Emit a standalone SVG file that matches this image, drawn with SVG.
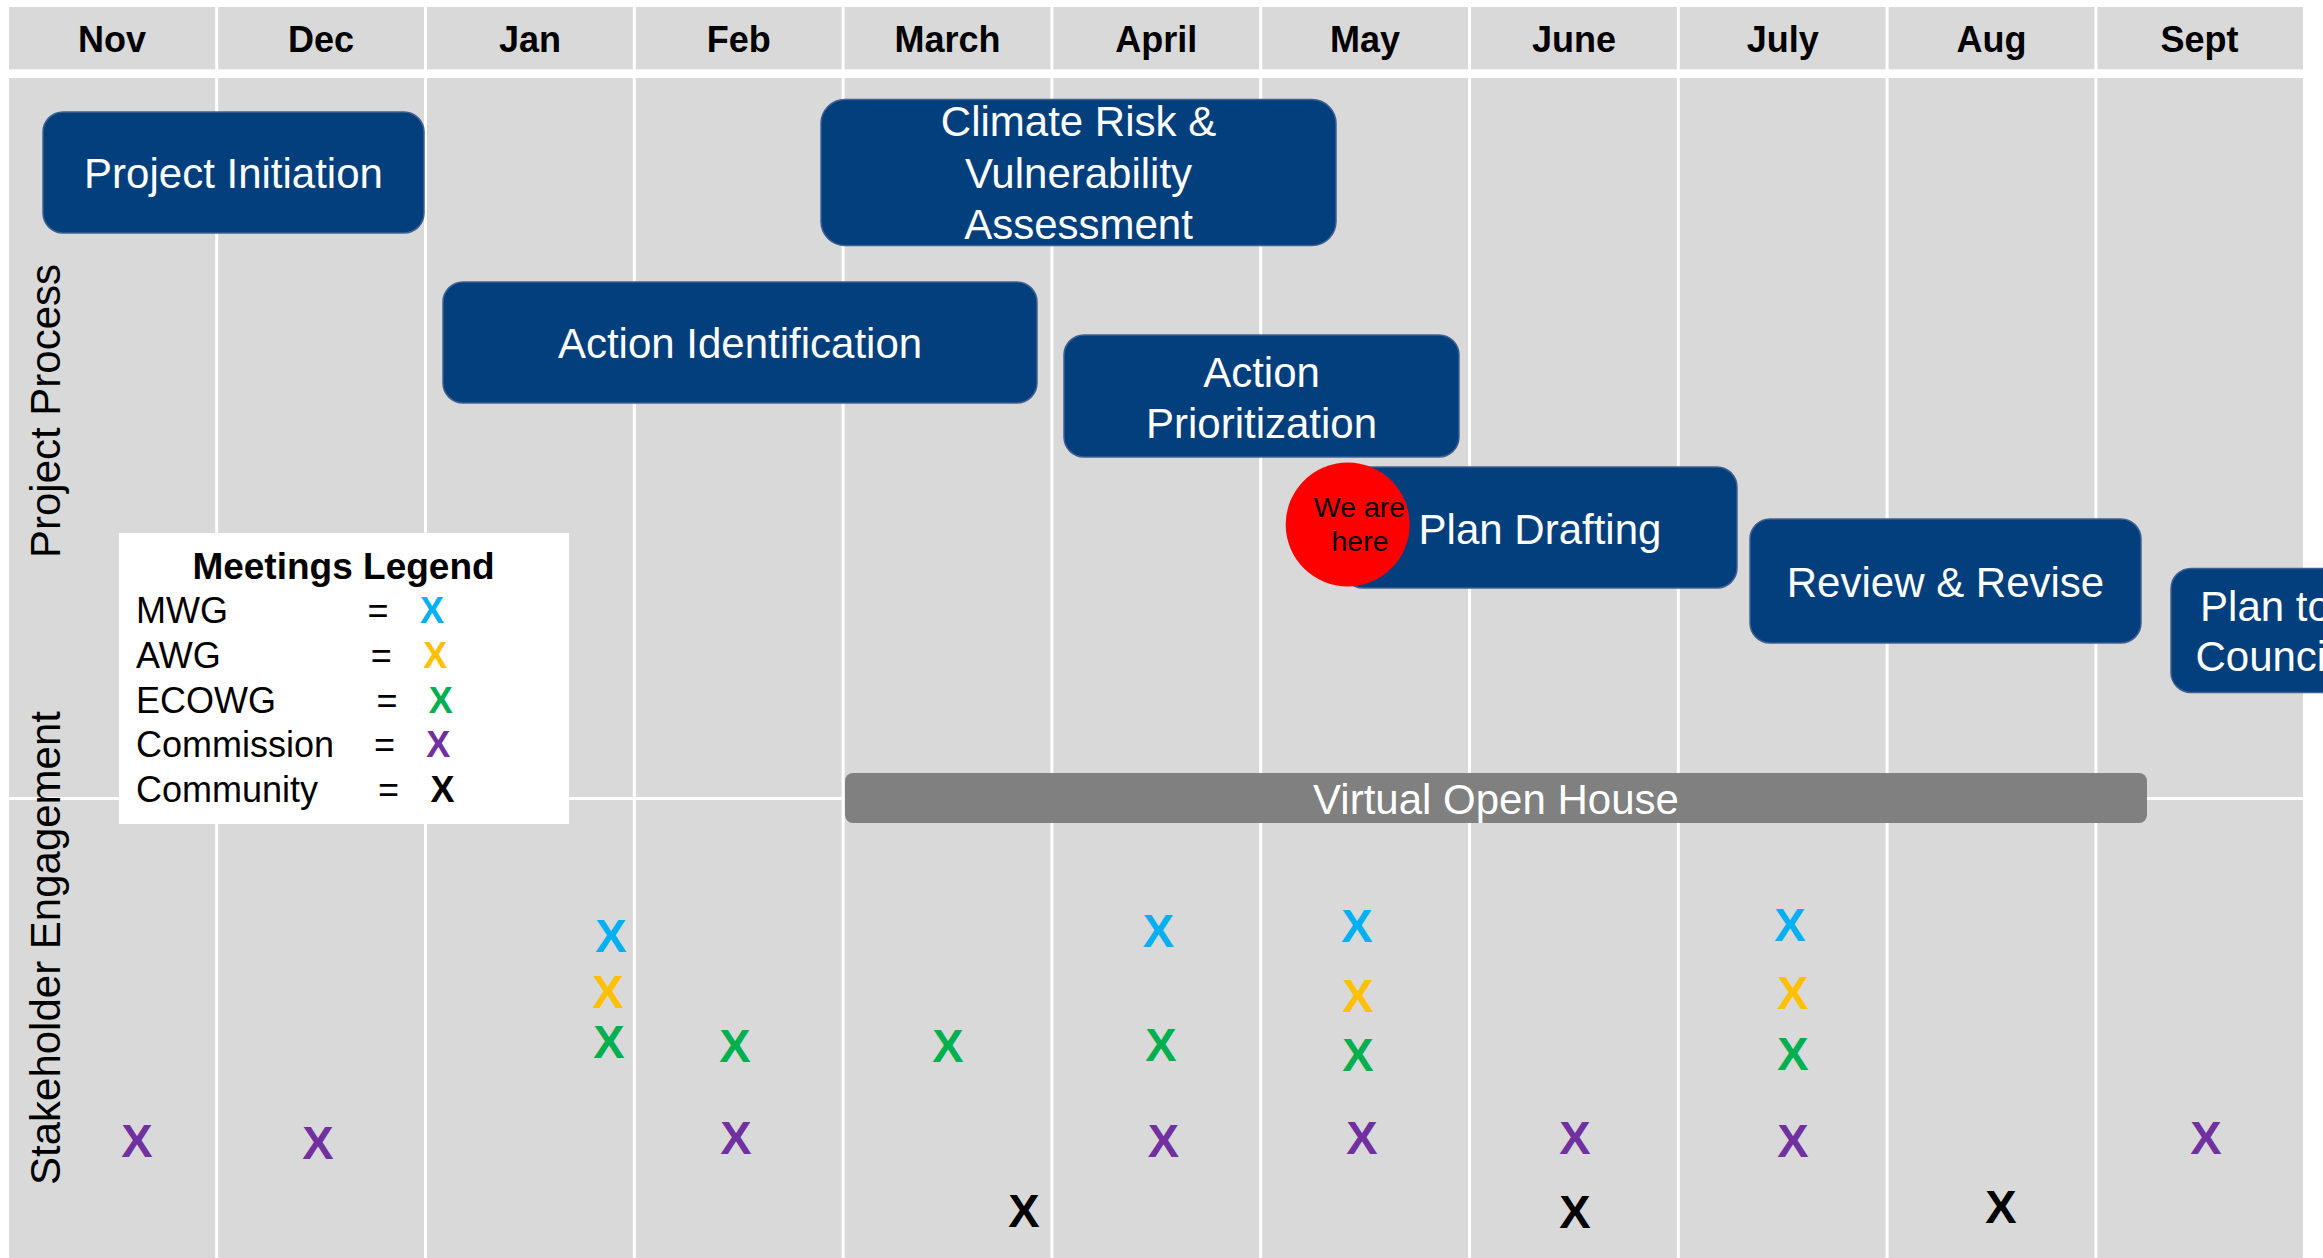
<svg xmlns="http://www.w3.org/2000/svg" width="2323" height="1258" viewBox="0 0 2323 1258">
  <style>
    .bg { fill: #D9D9D9; }
    .gl { stroke: #FFFFFF; stroke-width: 3; }
    .hdr { font-family: "Liberation Sans", Arial, sans-serif; font-weight: bold; font-size: 36px; text-anchor: middle; fill: #000000; }
    .side { font-family: "Liberation Sans", Arial, sans-serif; font-size: 42px; text-anchor: middle; fill: #000000; }
    .box { fill: #023F7C; stroke: #3F6090; stroke-width: 1.5; }
    .bt { font-family: "Liberation Sans", Arial, sans-serif; font-size: 42px; text-anchor: middle; fill: #FFFFFF; }
    .lg { font-family: "Liberation Sans", Arial, sans-serif; font-size: 36px; fill: #000000; }
    .lgc { font-family: "Liberation Sans", Arial, sans-serif; font-size: 36px; fill: #000000; text-anchor: middle; }
    .lgx { font-family: "Liberation Sans", Arial, sans-serif; font-size: 36px; font-weight: bold; text-anchor: middle; }
    .x { font-family: "Liberation Sans", Arial, sans-serif; font-size: 47px; font-weight: bold; text-anchor: middle; }
    .mwg { fill: #00B0F0; }
    .awg { fill: #FFC000; }
    .eco { fill: #00B050; }
    .com { fill: #7030A0; }
    .cty { fill: #000000; }
  </style>

  <rect x="0" y="0" width="2323" height="1258" fill="#FFFFFF"/>

  <g id="grid">
    <rect class="bg" x="9" y="7" width="2294" height="62.3"/>
    <rect class="bg" x="9" y="78" width="2294" height="1180"/>
    <g class="gl">
      <line x1="216.7" y1="0" x2="216.7" y2="1258"/>
      <line x1="425.5" y1="0" x2="425.5" y2="1258"/>
      <line x1="634.3" y1="0" x2="634.3" y2="1258"/>
      <line x1="843.1" y1="0" x2="843.1" y2="1258"/>
      <line x1="1051.9" y1="0" x2="1051.9" y2="1258"/>
      <line x1="1260.7" y1="0" x2="1260.7" y2="1258"/>
      <line x1="1469.5" y1="0" x2="1469.5" y2="1258"/>
      <line x1="1678.3" y1="0" x2="1678.3" y2="1258"/>
      <line x1="1887.1" y1="0" x2="1887.1" y2="1258"/>
      <line x1="2095.9" y1="0" x2="2095.9" y2="1258"/>
      <line x1="9" y1="798.5" x2="2303" y2="798.5"/>
    </g>
  </g>

  <g id="header">
    <text class="hdr" x="112.1" y="52">Nov</text>
    <text class="hdr" x="321.1" y="52">Dec</text>
    <text class="hdr" x="529.9" y="52">Jan</text>
    <text class="hdr" x="738.7" y="52">Feb</text>
    <text class="hdr" x="947.5" y="52">March</text>
    <text class="hdr" x="1156.3" y="52">April</text>
    <text class="hdr" x="1365.1" y="52">May</text>
    <text class="hdr" x="1573.9" y="52">June</text>
    <text class="hdr" x="1782.7" y="52">July</text>
    <text class="hdr" x="1991.5" y="52">Aug</text>
    <text class="hdr" x="2199.5" y="52">Sept</text>
  </g>

  <g id="row-labels">
    <text class="side" transform="translate(59.5,411) rotate(-90)">Project Process</text>
    <text class="side" transform="translate(59.5,948) rotate(-90)">Stakeholder Engagement</text>
  </g>

  <g id="legend">
    <rect x="119" y="533" width="450" height="291" fill="#FFFFFF"/>
    <text x="343.5" y="579" font-family="Liberation Sans, Arial, sans-serif" font-size="37" font-weight="bold" text-anchor="middle">Meetings Legend</text>
    <text class="lg" x="136" y="623">MWG</text>
    <text class="lgc" x="378" y="623">=</text>
    <text class="lgx mwg" x="432" y="623">X</text>
    <text class="lg" x="136" y="668">AWG</text>
    <text class="lgc" x="381.2" y="668">=</text>
    <text class="lgx awg" x="435.3" y="668">X</text>
    <text class="lg" x="136" y="713">ECOWG</text>
    <text class="lgc" x="387" y="713">=</text>
    <text class="lgx eco" x="440.8" y="713">X</text>
    <text class="lg" x="136" y="757">Commission</text>
    <text class="lgc" x="384.5" y="757">=</text>
    <text class="lgx com" x="438.3" y="757">X</text>
    <text class="lg" x="136" y="802">Community</text>
    <text class="lgc" x="388.5" y="802">=</text>
    <text class="lgx cty" x="442.5" y="802">X</text>
  </g>

  <g id="virtual-open-house">
    <rect x="845" y="773" width="1302" height="50" rx="8" ry="8" fill="#808080"/>
    <text class="bt" x="1496" y="814">Virtual Open House</text>
  </g>

  <g id="project-initiation">
    <rect class="box" x="43" y="112" width="381" height="121" rx="20" ry="20"/>
    <text class="bt" x="233.5" y="188">Project Initiation</text>
  </g>

  <g id="climate-risk">
    <rect class="box" x="821" y="99.5" width="515" height="146" rx="24" ry="24"/>
    <text class="bt" x="1078.5" y="136">Climate Risk &amp;</text>
    <text class="bt" x="1078.5" y="187.5">Vulnerability</text>
    <text class="bt" x="1078.5" y="239">Assessment</text>
  </g>

  <g id="action-identification">
    <rect class="box" x="443" y="282" width="594" height="121" rx="20" ry="20"/>
    <text class="bt" x="740" y="358">Action Identification</text>
  </g>

  <g id="action-prioritization">
    <rect class="box" x="1064" y="335" width="395" height="122" rx="20" ry="20"/>
    <text class="bt" x="1261.5" y="387">Action</text>
    <text class="bt" x="1261.5" y="438">Prioritization</text>
  </g>

  <g id="plan-drafting">
    <rect class="box" x="1343" y="467" width="394" height="121" rx="20" ry="20"/>
    <text class="bt" x="1540" y="544">Plan Drafting</text>
  </g>

  <g id="we-are-here">
    <circle cx="1347.7" cy="524.5" r="62" fill="#FF0000"/>
    <text x="1359.5" y="516.7" font-family="Liberation Sans, Arial, sans-serif" font-size="28.5" text-anchor="middle" fill="#000000">We are</text>
    <text x="1360" y="550.7" font-family="Liberation Sans, Arial, sans-serif" font-size="28.5" text-anchor="middle" fill="#000000">here</text>
  </g>

  <g id="review-revise">
    <rect class="box" x="1750" y="519" width="391" height="124" rx="20" ry="20"/>
    <text class="bt" x="1945.5" y="597">Review &amp; Revise</text>
  </g>

  <g id="plan-to-council">
    <rect class="box" x="2171" y="568.5" width="190" height="124" rx="20" ry="20"/>
    <text class="bt" x="2265.5" y="621">Plan to</text>
    <text class="bt" x="2265.5" y="671">Council</text>
  </g>

  <g id="connectors"></g>

  <g id="meetings">
    <text class="x com" x="137" y="1157">X</text>
    <text class="x com" x="318" y="1159">X</text>

    <text class="x mwg" x="611" y="952">X</text>
    <text class="x awg" x="608" y="1008">X</text>
    <text class="x eco" x="609" y="1058">X</text>

    <text class="x eco" x="735" y="1062">X</text>
    <text class="x com" x="736" y="1154">X</text>

    <text class="x eco" x="948" y="1062">X</text>
    <text class="x cty" x="1024" y="1227">X</text>

    <text class="x mwg" x="1158.5" y="947">X</text>
    <text class="x eco" x="1161" y="1061">X</text>
    <text class="x com" x="1163.5" y="1157">X</text>

    <text class="x mwg" x="1357" y="942">X</text>
    <text class="x awg" x="1358" y="1012">X</text>
    <text class="x eco" x="1358" y="1071">X</text>
    <text class="x com" x="1362" y="1154">X</text>

    <text class="x com" x="1575" y="1154">X</text>
    <text class="x cty" x="1575" y="1228">X</text>

    <text class="x mwg" x="1790" y="941">X</text>
    <text class="x awg" x="1793" y="1009">X</text>
    <text class="x eco" x="1793" y="1070">X</text>
    <text class="x com" x="1793" y="1157">X</text>

    <text class="x cty" x="2001" y="1223">X</text>

    <text class="x com" x="2206" y="1154">X</text>
  </g>
</svg>
